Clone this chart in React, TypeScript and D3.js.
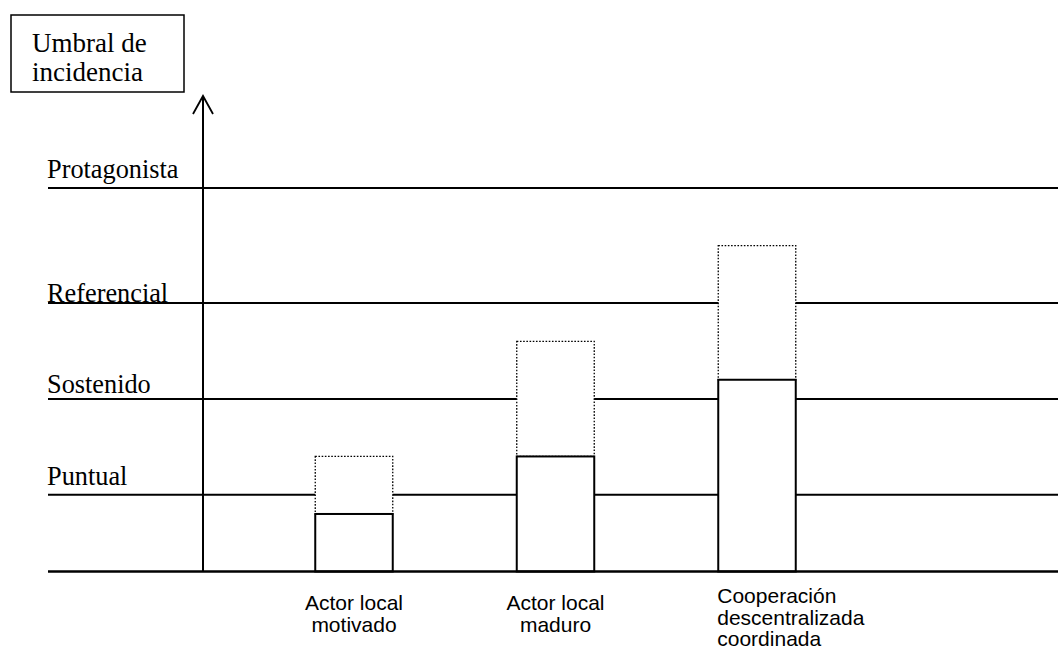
import React from 'react';
import * as d3 from 'd3';

// ---- Data ----
const levelNames = ['Puntual', 'Sostenido', 'Referencial', 'Protagonista'];
const levelValues = [20, 45, 70, 100];
const actorKeys = ['motivado', 'maduro', 'coordinada'];
const actorLabels = [
  ['Actor local', 'motivado'],
  ['Actor local', 'maduro'],
  ['Cooperación', 'descentralizada', 'coordinada'],
];
const actualValues = [15, 30, 50];
const potentialValues = [30, 60, 85];
const axisTitle = ['Umbral de', 'incidencia'];
const axisMaxValue = 124;

// ---- Layout / style ----
const W = 1058;
const H = 651;
const SERIF = '"Liberation Serif", "Times New Roman", serif';
const SANS = '"Liberation Sans", Arial, sans-serif';
const LABEL_DY = [10, 6, 1.5, 10];

export default function App() {
  const y = d3.scaleLinear().domain([0, 100]).range([571.5, 188]);
  const x = d3
    .scaleBand<string>()
    .domain(actorKeys)
    .range([214.5, 896.5])
    .paddingInner(0.6154)
    .paddingOuter(0.5);
  const axisX = 203;
  const lineStart = 48;
  const bw = x.bandwidth();

  return (
    <svg
      width={W}
      height={H}
      style={{ position: 'absolute', left: 0, top: 0, background: '#fff' }}
    >
      {/* title box */}
      <rect x={11} y={15} width={173} height={77} fill="none" stroke="#000" strokeWidth={1.5} />
      {axisTitle.map((t, i) => (
        <text key={t} x={32} y={52 + i * 29} fontFamily={SERIF} fontSize={27} fill="#000">
          {t}
        </text>
      ))}

      {/* level lines and labels */}
      {levelValues.map((v, i) => (
        <g key={levelNames[i]}>
          <line x1={lineStart} x2={W} y1={y(v)} y2={y(v)} stroke="#000" strokeWidth={2} />
          <text
            x={47}
            y={y(v) - LABEL_DY[i]}
            fontFamily={SERIF}
            fontSize={26.3}
            fill="#000"
          >
            {levelNames[i]}
          </text>
        </g>
      ))}

      {/* vertical axis with arrow */}
      <line x1={axisX} x2={axisX} y1={y(0)} y2={y(axisMaxValue)} stroke="#000" strokeWidth={2} />
      <polyline
        points={`${axisX - 10},${y(axisMaxValue) + 18} ${axisX},${y(axisMaxValue)} ${axisX + 10},${y(axisMaxValue) + 18}`}
        fill="none"
        stroke="#000"
        strokeWidth={1.8}
      />

      {/* bars */}
      {actorKeys.map((k, i) => {
        const x0 = x(k) as number;
        return (
          <g key={k}>
            <rect
              x={x0}
              y={y(potentialValues[i])}
              width={bw}
              height={y(actualValues[i]) - y(potentialValues[i])}
              fill="#fff"
              stroke="#000"
              strokeWidth={1.3}
              strokeDasharray="1.6,1.6"
            />
            <rect
              x={x0}
              y={y(actualValues[i])}
              width={bw}
              height={y(0) - y(actualValues[i])}
              fill="#fff"
              stroke="#000"
              strokeWidth={2}
            />
          </g>
        );
      })}

      {/* baseline */}
      <line x1={lineStart} x2={W} y1={y(0)} y2={y(0)} stroke="#000" strokeWidth={2.5} />

      {/* actor labels */}
      {actorKeys.map((k, i) => {
        const x0 = x(k) as number;
        const lines = actorLabels[i];
        const leftAligned = lines.length > 2;
        const baseY = leftAligned ? 603 : 610;
        return (
          <text
            key={k + '-label'}
            fontFamily={SANS}
            fontSize={21}
            fill="#000"
            textAnchor={leftAligned ? 'start' : 'middle'}
          >
            {lines.map((t, j) => (
              <tspan key={t} x={leftAligned ? x0 - 1 : x0 + bw / 2} y={baseY + j * 21.5}>
                {t}
              </tspan>
            ))}
          </text>
        );
      })}
    </svg>
  );
}
